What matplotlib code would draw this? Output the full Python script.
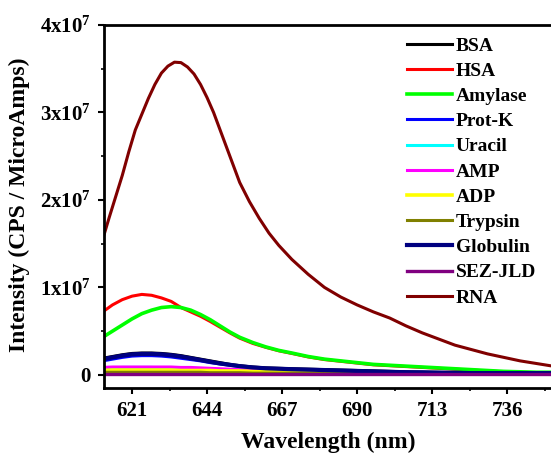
import numpy as np
import matplotlib
matplotlib.use("Agg")
import matplotlib.pyplot as plt
from matplotlib.ticker import MultipleLocator

plt.rcParams['font.family'] = ['Liberation Serif', 'DejaVu Serif']
plt.rcParams['font.weight'] = 'bold'
plt.rcParams['mathtext.fontset'] = 'custom'
plt.rcParams['mathtext.rm'] = 'Liberation Serif:bold'
plt.rcParams['mathtext.it'] = 'Liberation Serif:bold'
plt.rcParams['mathtext.bf'] = 'Liberation Serif:bold'

# longitud de onda (nm)
wl = [612, 615, 618, 621, 624, 627, 630, 633, 636, 639, 642, 645, 648, 651, 654, 658,
      662, 666, 670, 675, 680, 685, 690, 695, 700, 705, 710, 715, 720, 725, 730, 735,
      740, 745, 750]

# intensidades en unidades de 1e7
bsa = [0.19, 0.21, 0.23, 0.245, 0.25, 0.25, 0.245, 0.235, 0.22, 0.20, 0.18, 0.16, 0.14, 0.12,
       0.105, 0.09, 0.08, 0.075, 0.07, 0.065, 0.06, 0.055, 0.05, 0.045, 0.04, 0.035, 0.03,
       0.03, 0.025, 0.025, 0.02, 0.02, 0.02, 0.02, 0.02]
hsa = [0.72, 0.80, 0.86, 0.90, 0.92, 0.91, 0.88, 0.84, 0.77, 0.72, 0.67, 0.61, 0.545, 0.48,
       0.42, 0.36, 0.315, 0.275, 0.245, 0.205, 0.175, 0.155, 0.135, 0.115, 0.105, 0.095,
       0.085, 0.075, 0.065, 0.055, 0.045, 0.035, 0.03, 0.025, 0.025]
amylase = [0.43, 0.50, 0.57, 0.64, 0.70, 0.74, 0.77, 0.78, 0.77, 0.74, 0.69, 0.63, 0.56, 0.49,
           0.43, 0.37, 0.32, 0.28, 0.25, 0.21, 0.18, 0.16, 0.14, 0.12, 0.11, 0.10, 0.09,
           0.08, 0.07, 0.06, 0.05, 0.04, 0.035, 0.03, 0.03]
protk = [0.16, 0.18, 0.20, 0.215, 0.22, 0.22, 0.215, 0.205, 0.19, 0.175, 0.16, 0.14, 0.125,
         0.11, 0.095, 0.08, 0.07, 0.065, 0.06, 0.055, 0.05, 0.045, 0.04, 0.035, 0.03, 0.03,
         0.025, 0.025, 0.02, 0.02, 0.02, 0.015, 0.015, 0.015, 0.015]
uracil = [0.08, 0.08, 0.085, 0.085, 0.085, 0.085, 0.08, 0.08, 0.08, 0.075, 0.07, 0.065, 0.06,
          0.055, 0.05, 0.045, 0.04, 0.035, 0.03, 0.03, 0.025, 0.025, 0.02, 0.02, 0.02, 0.015,
          0.015, 0.015, 0.015, 0.01, 0.01, 0.01, 0.01, 0.01, 0.01]
amp = [0.085, 0.09, 0.09, 0.09, 0.09, 0.09, 0.09, 0.09, 0.085, 0.085, 0.08, 0.075, 0.07, 0.065,
       0.06, 0.055, 0.05, 0.045, 0.04, 0.035, 0.03, 0.03, 0.025, 0.025, 0.02, 0.02, 0.02,
       0.015, 0.015, 0.015, 0.015, 0.01, 0.01, 0.01, 0.01]
adp = [0.05, 0.055, 0.055, 0.055, 0.055, 0.055, 0.055, 0.055, 0.05, 0.05, 0.05, 0.05, 0.045,
       0.045, 0.045, 0.04, 0.04, 0.04, 0.035, 0.03, 0.025, 0.02, 0.02, 0.015, 0.015, 0.015,
       0.01, 0.01, 0.01, 0.01, 0.01, 0.01, 0.01, 0.01, 0.01]
trypsin = [0.03, 0.03, 0.03, 0.03, 0.03, 0.03, 0.03, 0.03, 0.03, 0.03, 0.03, 0.025, 0.025,
           0.025, 0.025, 0.02, 0.02, 0.02, 0.02, 0.02, 0.015, 0.015, 0.015, 0.015, 0.01,
           0.01, 0.01, 0.01, 0.01, 0.01, 0.01, 0.01, 0.01, 0.01, 0.01]
globulin = [0.18, 0.20, 0.22, 0.235, 0.24, 0.24, 0.235, 0.225, 0.21, 0.19, 0.17, 0.15, 0.13,
            0.115, 0.10, 0.085, 0.075, 0.07, 0.065, 0.06, 0.055, 0.05, 0.045, 0.04, 0.035,
            0.03, 0.03, 0.025, 0.025, 0.02, 0.02, 0.02, 0.02, 0.02, 0.02]
sez = [0.005, 0.005, 0.005, 0.005, 0.005, 0.005, 0.005, 0.005, 0.005, 0.005, 0.005, 0.005,
       0.005, 0.005, 0.005, 0.005, 0.005, 0.005, 0.005, 0.005, 0.005, 0.005, 0.005, 0.005,
       0.005, 0.005, 0.005, 0.005, 0.005, 0.005, 0.005, 0.005, 0.005, 0.005, 0.005]

# RNA tiene mas puntos (curva mas pronunciada)
wl_rna = [612, 614, 616, 618, 620, 622, 624, 626, 628, 630, 632, 634, 636, 638, 640, 642,
          644, 646, 648, 650, 652, 654, 657, 660, 663, 666, 670, 675, 680, 685, 690, 695,
          700, 705, 710, 715, 720, 725, 730, 735, 740, 745, 750]
rna = [1.55, 1.80, 2.04, 2.28, 2.55, 2.80, 2.98, 3.16, 3.32, 3.45, 3.53, 3.575, 3.57, 3.52,
       3.44, 3.32, 3.17, 3.00, 2.80, 2.60, 2.40, 2.20, 1.98, 1.79, 1.62, 1.48, 1.32, 1.15,
       1.00, 0.89, 0.80, 0.72, 0.65, 0.56, 0.48, 0.41, 0.34, 0.29, 0.24, 0.20, 0.16, 0.13,
       0.10]

nombres = ["BSA", "HSA", "Amylase", "Prot-K", "Uracil", "AMP", "ADP", "Trypsin",
           "Globulin", "SEZ-JLD"]
series = [bsa, hsa, amylase, protk, uracil, amp, adp, trypsin, globulin, sez]
colores = ["#000000", "#ff0000", "#00ff00", "#0000ff", "#00ffff", "#ff00ff", "#ffff00",
           "#808000", "#000080", "#800080"]
anchos = [2.2, 2.2, 2.6, 2.2, 2.2, 2.2, 2.6, 2.2, 3.0, 2.4]

fig = plt.figure(figsize=(5.51, 4.57), dpi=100)
ax = fig.add_axes([104 / 551, 1 - 388 / 457, 449.75 / 551, 363 / 457])

for n, s, c, w in zip(nombres, series, colores, anchos):
    ax.plot(wl, np.array(s) * 1e7, color=c, lw=w, label=n)
ax.plot(wl_rna, np.array(rna) * 1e7, color="#800000", lw=2.2, label="RNA")

ax.set_xlim(612.4, 750.3)
ax.set_ylim(-0.15e7, 4e7)

ax.set_xticks([621, 644, 667, 690, 713, 736])
ax.xaxis.set_minor_locator(MultipleLocator(11.5))
ax.set_yticks([0, 1e7, 2e7, 3e7, 4e7])
ax.set_yticklabels(["0", "1x10$^7$", "2x10$^7$", "3x10$^7$", "4x10$^7$"])
ax.yaxis.set_minor_locator(MultipleLocator(0.5e7))

ax.tick_params(which='major', direction='out', length=4.5, width=1.5, labelsize=15, pad=5)
ax.tick_params(which='minor', direction='out', length=2.5, width=1.2)
for sp in ax.spines.values():
    sp.set_linewidth(2)

ax.set_xlabel("Wavelength (nm)", fontsize=17, fontweight='bold')
ax.set_ylabel("Intensity (CPS / MicroAmps)", fontsize=17, fontweight='bold')
ax.xaxis.set_label_coords(0.498, -0.122)
ax.yaxis.set_label_coords(-0.165, 0.505)

leg = ax.legend(loc='upper left', bbox_to_anchor=(407 / 551, 1 - 37 / 457),
                bbox_transform=fig.transFigure, frameon=False, fontsize=14,
                handlelength=2.3, handletextpad=0.2, labelspacing=0.39,
                borderpad=0, borderaxespad=0)

fig.savefig("out.png", dpi=100)
